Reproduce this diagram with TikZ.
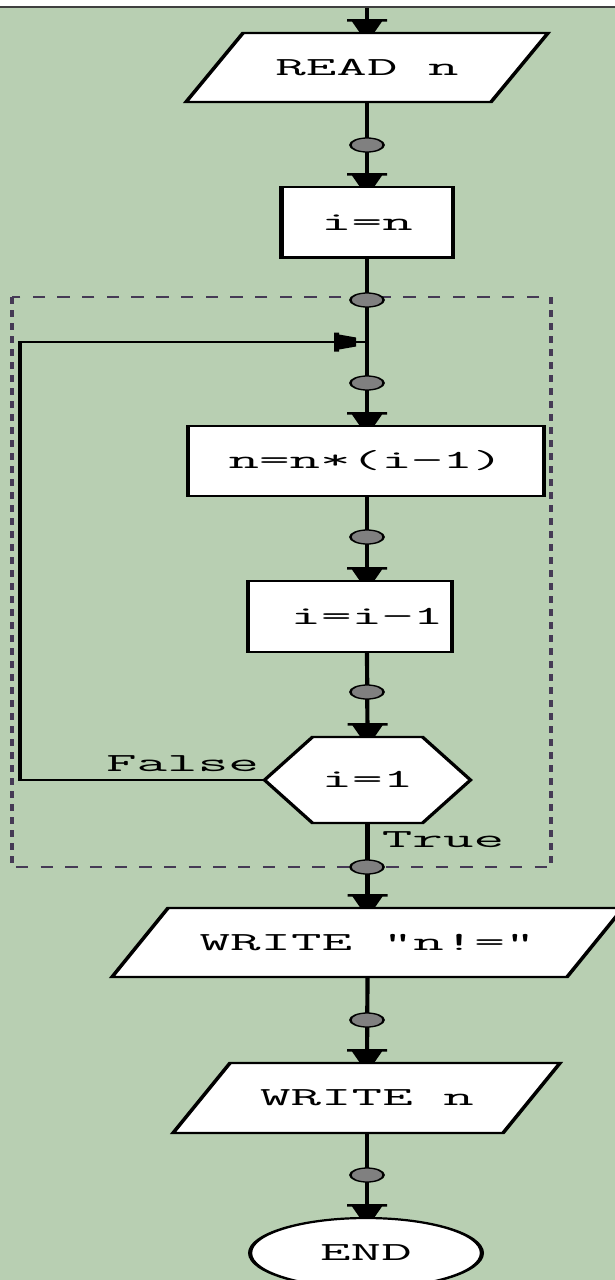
\documentclass[tikz,border=0pt]{standalone}
\usepackage{fontspec}
\usepackage{graphicx}
\usetikzlibrary{shapes.geometric,calc}
\definecolor{bg}{HTML}{B8CFB2}
\definecolor{dashc}{HTML}{453A55}
\definecolor{dotc}{HTML}{808080}
\newcommand{\wtx}[1]{\scalebox{1.2}[1]{#1}}
\tikzset{
  conn/.style={draw=black, line width=2.2pt},
  boxn/.style={draw=black, fill=white, line width=2.2pt},
  txt/.style={font=\ttfamily\fontsize{26}{26}\selectfont, text=black, text height=15.9pt, text depth=0pt, inner sep=0pt, outer sep=0pt},
  dotn/.style={ellipse, draw=black, fill=dotc, line width=1.3pt, minimum width=17.5pt, minimum height=14pt, inner sep=0pt},
  shapeline/.style={draw=black, fill=white, line width=2.2pt, line join=miter},
  dashbox/.style={draw=dashc, line width=2.2pt, dash pattern=on 6.5pt off 6.5pt},
  ahd/.pic={\fill[black] (-20,-14) -- (20,-14) -- (20,-11.5) -- (15,-11.5) -- (7,0) -- (-7,0) -- (-15,-11.5) -- (-20,-11.5) -- cycle;},
  ahr/.pic={\fill[black] (-22,-9.5) -- (-17,-9.5) -- (-17,-7.5) -- (0,-4.5) -- (0,4.5) -- (-17,7.5) -- (-17,9.5) -- (-22,9.5) -- cycle;},
}
\begin{document}
\begin{tikzpicture}[x=1pt,y=-1pt]
\useasboundingbox (0,0) rectangle (615,1280);
\fill[white] (0,0) rectangle (615,6);
\fill[black!75] (0,6) rectangle (615,8);
\fill[bg] (0,8) rectangle (615,1280);
\begin{scope}[transform canvas={xscale=1.9}, x=0.526316pt, y=-1pt]
  % loop region
  \draw[dashbox] (12,297) rectangle (551,867);
  % reference coordinates
  \coordinate (top) at (367,8);
  \coordinate (join) at (367,342);
  \coordinate (lft) at (20,342);
  \coordinate (c1) at (367,67.5);
  \coordinate (c5) at (367.5,780);
  \coordinate (c6) at (367.5,942.5);
  \coordinate (c7) at (367,1098);
  % shapes drawn by outline
  \draw[shapeline, shift={(c1)}] (-124,-34.5) -- (181,-34.5) -- (124,34.5) -- (-181,34.5) -- cycle;
  \draw[shapeline, shift={(c5)}] (-103,0) -- (-55,-43) -- (55,-43) -- (103,0) -- (55,43) -- (-55,43) -- cycle;
  \draw[shapeline, shift={(c6)}] (-199.5,-34.5) -- (255.5,-34.5) -- (199.5,34.5) -- (-255.5,34.5) -- cycle;
  \draw[shapeline, shift={(c7)}] (-137,-35) -- (193,-35) -- (136,35) -- (-194,35) -- cycle;
  % nodes
  \node[txt, minimum height=69pt] (readn) at (c1) {\wtx{READ n}};
  \node[boxn, txt, minimum width=90.1pt, minimum height=70.5pt] (ieqn) at (367,222.3) {\wtx{i=n}};
  \node[boxn, txt, minimum width=187.3pt, minimum height=69.8pt] (nn) at (366,461) {\wtx{n=n*(i−1)}};
  \node[boxn, txt, minimum width=107.3pt, minimum height=70.8pt] (ii) at (350,616.5) {\hspace*{17.9pt}\wtx{i=i−1}};
  \node[txt, minimum width=108.4pt, minimum height=86pt] (hex) at (c5) {\wtx{i=1}};
  \node[txt, minimum height=69pt] (write1) at (c6) {\wtx{WRITE "n!="}};
  \node[txt, minimum height=70pt] (write2) at (c7) {\wtx{WRITE n}};
  \node[boxn, ellipse, txt, minimum width=122pt, minimum height=70pt] (endn) at (366,1253) {\wtx{END}};
  \node[txt] (lfalse) at (182.5,764) {\wtx{False}};
  \node[txt] (ltrue) at (443,839.5) {\wtx{True}};
  % connectors
  \draw[conn] (top) -- (readn.north);
  \draw[conn] (readn.south) -- (readn.south |- ieqn.north);
  \draw[conn] (readn.south |- ieqn.south) -- (readn.south |- nn.north);
  \draw[conn] (readn.south |- nn.south) -- (readn.south |- ii.north);
  \draw[conn] (readn.south |- ii.south) -- (hex.north);
  \draw[conn] (hex.south) -- (write1.north);
  \draw[conn] (write1.south) -- (write2.north);
  \draw[conn] (write2.south) -- (write2.south |- endn.north);
  \draw[conn] (hex.west) -| (lft) -- (join);
  % junction dots
  \node[dotn] (d1) at (367,145) {};
  \node[dotn] (d2) at (367,300) {};
  \node[dotn] (d3) at (367,383) {};
  \node[dotn] (d4) at (367,537) {};
  \node[dotn] (d5) at (367,692) {};
  \node[dotn] (d6) at (367,867) {};
  \node[dotn] (d7) at (367,1020) {};
  \node[dotn] (d8) at (367,1175) {};
  % arrowheads
  \pic at (readn.north) {ahd};
  \pic at (readn.south |- ieqn.north) {ahd};
  \pic at (readn.south |- nn.north) {ahd};
  \pic at (readn.south |- ii.north) {ahd};
  \pic at (hex.north) {ahd};
  \pic at (write1.north) {ahd};
  \pic at (write2.north) {ahd};
  \pic at (write2.south |- endn.north) {ahd};
  \pic at ($(join)+(-11,0)$) {ahr};
\end{scope}
\end{tikzpicture}
\end{document}
